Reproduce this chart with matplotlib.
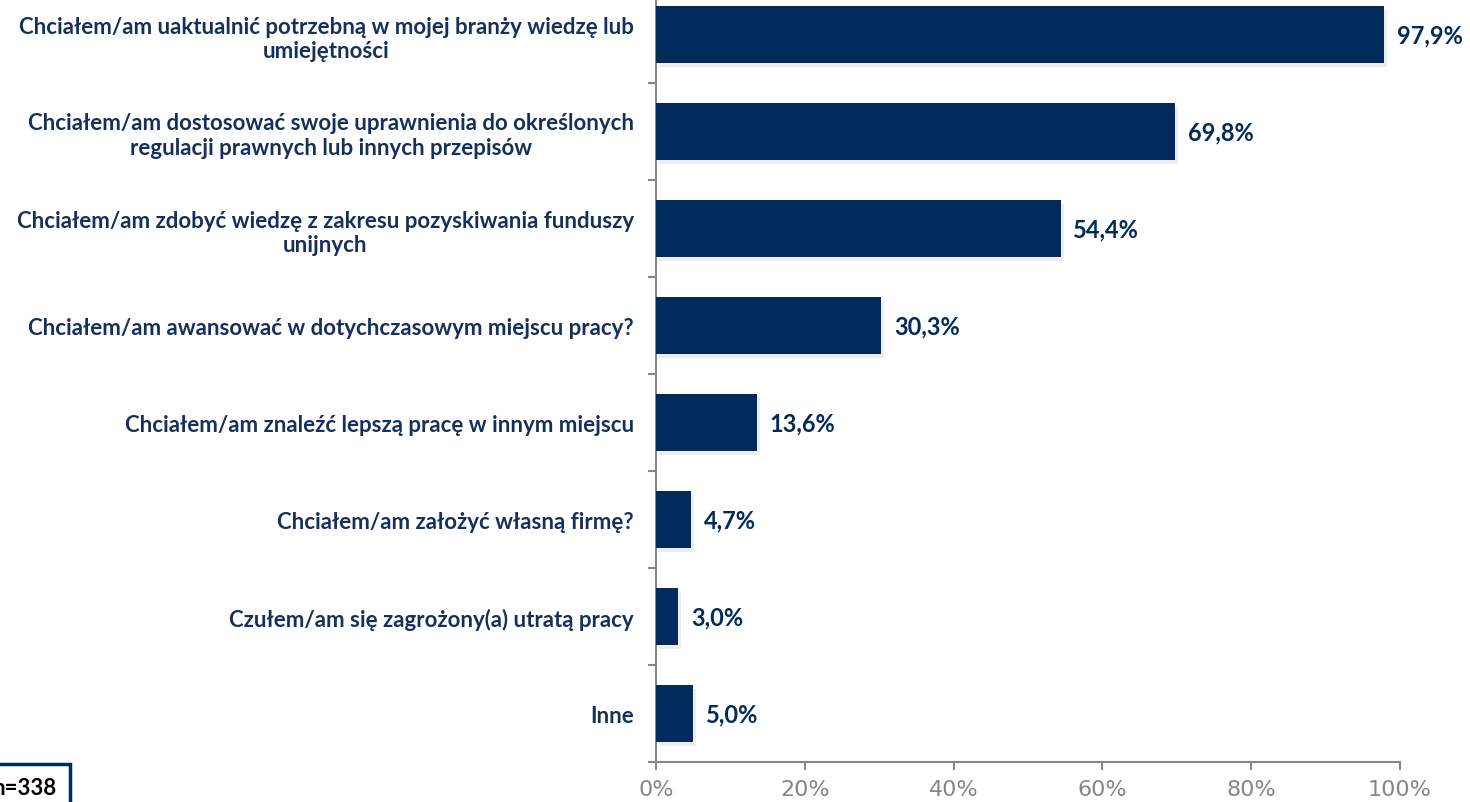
import matplotlib.pyplot as plt
import matplotlib.patheffects as pe
import numpy as np

plt.rcParams['font.family'] = ['Lato', 'DejaVu Sans']

categories = [
    "Chciałem/am uaktualnić potrzebną w mojej branży wiedzę lub\numiejętności",
    "Chciałem/am dostosować swoje uprawnienia do określonych\nregulacji prawnych lub innych przepisów",
    "Chciałem/am zdobyć wiedzę z zakresu pozyskiwania funduszy\nunijnych",
    "Chciałem/am awansować w dotychczasowym miejscu pracy?",
    "Chciałem/am znaleźć lepszą pracę w innym miejscu",
    "Chciałem/am założyć własną firmę?",
    "Czułem/am się zagrożony(a) utratą pracy",
    "Inne",
]
values = [97.9, 69.8, 54.4, 30.3, 13.6, 4.7, 3.0, 5.0]
value_labels = ["97,9%", "69,8%", "54,4%", "30,3%", "13,6%", "4,7%", "3,0%", "5,0%"]
x_ticks = [0, 20, 40, 60, 80, 100]
x_tick_labels = ["0%", "20%", "40%", "60%", "80%", "100%"]
sample_note = "n=338"

navy = "#002B5A"
label_col = "#16305C"
grey = "#868686"

fig = plt.figure(figsize=(14.7, 8.03), dpi=100)
ax = fig.add_axes([656 / 1470, 40 / 803, 744 / 1470, 776 / 803])

y = np.arange(len(categories))
bars = ax.barh(y, values, height=0.59, color=navy, zorder=3)
for b in bars:
    b.set_path_effects([pe.SimplePatchShadow(offset=(2, -3), shadow_rgbFace='#000000', alpha=0.07),
                        pe.Normal()])

# value labels a fixed distance right of each bar
for yi, v, lab in zip(y, values, value_labels):
    ax.annotate(lab, xy=(v, yi), xytext=(9, 0), textcoords='offset points',
                va='center', ha='left', fontsize=17, fontweight='bold', color=navy)

ax.set_ylim(len(categories) - 0.5, -0.5)
ax.set_xlim(0, 100)
ax.set_yticks(y)
ax.set_yticklabels(categories, fontsize=16, fontweight='bold', color=label_col,
                   multialignment='center', linespacing=1.2)
ax.tick_params(axis='y', length=0, pad=16)
ax.set_yticks(np.arange(len(categories) + 1) - 0.5, minor=True)
ax.tick_params(axis='y', which='minor', length=6, color=grey, width=1.5)

ax.set_xticks(x_ticks)
ax.set_xticklabels(x_tick_labels, fontsize=16, color=grey, family='DejaVu Sans')
ax.tick_params(axis='x', length=6, color=grey, width=1.5, pad=6)

for s in ['top', 'right']:
    ax.spines[s].set_visible(False)
for s in ['left', 'bottom']:
    ax.spines[s].set_color(grey)
    ax.spines[s].set_linewidth(1.5)

fig.text(57 / 1470, 14 / 803, sample_note, ha='right', va='center', fontsize=16,
         fontweight='bold', color='black',
         bbox=dict(boxstyle='square,pad=0.6', facecolor='white', edgecolor=navy, linewidth=2.5))

fig.savefig("out.png", dpi=100)
